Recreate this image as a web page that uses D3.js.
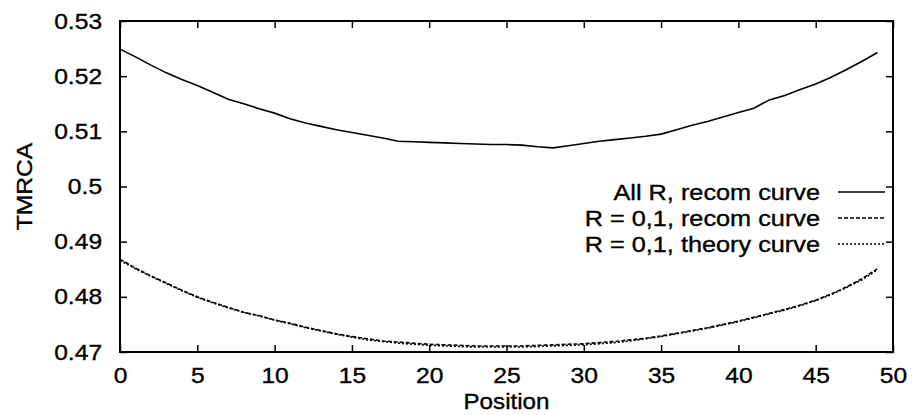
<!DOCTYPE html>
<html>
<head>
<meta charset="utf-8">
<script src="https://cdn.jsdelivr.net/npm/d3@7"></script>
<style>
  html, body { margin: 0; padding: 0; background: #fff; }
  svg { display: block; }
  text { font-family: "Liberation Sans", Arial, Helvetica, sans-serif; fill: #000; }
</style>
</head>
<body>
<svg id="chart" width="915" height="415"></svg>
<script>
// ---- data ----
const positions = [0,1,2,3,4,5,6,7,8,9,10,11,12,13,14,15,16,17,18,19,20,21,22,23,24,
  25,26,27,28,29,30,31,32,33,34,35,36,37,38,39,40,41,42,43,44,45,46,47,48,49];

const allRRecom = [0.5249,0.5235,0.5220,0.5206,0.5194,0.5183,0.5171,0.5158,0.5150,0.5141,
  0.5133,0.5123,0.5115,0.5109,0.5103,0.5098,0.5093,0.5088,0.5082,0.5081,
  0.5080,0.5079,0.5078,0.5077,0.5076,0.5076,0.5075,0.5072,0.5070,0.5074,
  0.5078,0.5082,0.5085,0.5088,0.5091,0.5095,0.5103,0.5111,0.5118,0.5126,
  0.5134,0.5142,0.5157,0.5165,0.5176,0.5186,0.5198,0.5212,0.5227,0.5243];

const r01Recom = [0.4868,0.4852,0.4838,0.4825,0.4812,0.4800,0.4790,0.4781,0.4772,0.4766,
  0.4758,0.4752,0.4745,0.4739,0.4733,0.4728,0.4724,0.4720,0.4718,0.4716,
  0.4714,0.4713,0.4712,0.4711,0.4711,0.4711,0.4711,0.4712,0.4713,0.4714,
  0.4715,0.4717,0.4719,0.4722,0.4725,0.4729,0.4734,0.4739,0.4744,0.4750,
  0.4756,0.4763,0.4770,0.4777,0.4785,0.4794,0.4805,0.4818,0.4833,0.4851];

const r01Theory = [0.4866,0.4851,0.4837,0.4824,0.4811,0.4799,0.4789,0.4780,0.4772,0.4765,
  0.4758,0.4751,0.4744,0.4738,0.4732,0.4727,0.4722,0.4719,0.4716,0.4714,
  0.4712,0.4711,0.4710,0.4709,0.4709,0.4709,0.4709,0.4710,0.4711,0.4712,
  0.4713,0.4715,0.4717,0.4720,0.4724,0.4728,0.4733,0.4738,0.4743,0.4749,
  0.4755,0.4762,0.4769,0.4776,0.4784,0.4793,0.4804,0.4817,0.4831,0.4849];

const xTicks = [0,5,10,15,20,25,30,35,40,45,50];
const yTicks = [0.47,0.48,0.49,0.50,0.51,0.52,0.53];
const yTickLabels = ["0.47","0.48","0.49","0.5","0.51","0.52","0.53"];
const seriesNames = ["All R, recom curve", "R = 0,1, recom curve", "R = 0,1, theory curve"];
const xLabel = "Position";
const yLabel = "TMRCA";

// ---- layout ----
const L = 120, R = 893, T = 21, B = 352;
const FS = 22, SX = 1.12;

const svg = d3.select("#chart");
const x = d3.scaleLinear().domain([0, 50]).range([L, R]);
const y = d3.scaleLinear().domain([0.47, 0.53]).range([B, T]);

function styleText(sel) {
  sel.style("font-size", FS + "px")
     .attr("stroke", "#000").attr("stroke-width", 0.35);
}

// axes (inward ticks)
const gl = svg.append("g").attr("transform", `translate(${L},0)`)
  .call(d3.axisLeft(y).tickValues(yTicks).tickSize(-7).tickPadding(16)
    .tickFormat((d, i) => yTickLabels[i]));
gl.selectAll("text").call(styleText).attr("transform", `scale(${SX},1)`);

const gr = svg.append("g").attr("transform", `translate(${R},0)`)
  .call(d3.axisRight(y).tickValues(yTicks).tickSize(-7).tickFormat(""));

const gb = svg.append("g").attr("transform", `translate(0,${B})`)
  .call(d3.axisBottom(x).tickValues(xTicks).tickSize(-7).tickPadding(15));
gb.selectAll("text").call(styleText).attr("transform", `scale(${SX},1)`);

const gt = svg.append("g").attr("transform", `translate(0,${T})`)
  .call(d3.axisTop(x).tickValues(xTicks).tickSize(-7).tickFormat(""));

[gl, gr, gb, gt].forEach(g => {
  g.select(".domain").remove();
  g.selectAll("line").attr("stroke", "#000").attr("stroke-width", 1.5);
});

// frame
svg.append("rect").attr("x", L).attr("y", T).attr("width", R - L).attr("height", B - T)
  .attr("fill", "none").attr("stroke", "#000").attr("stroke-width", 2);

// lines
const series = [
  { name: seriesNames[0], values: allRRecom, dash: null, w: 1.6 },
  { name: seriesNames[1], values: r01Recom, dash: "4,2", w: 1.6 },
  { name: seriesNames[2], values: r01Theory, dash: "2,2", w: 1.6 }
];
const line = d3.line().x((d, i) => x(positions[i])).y(d => y(d)).curve(d3.curveLinear);

series.forEach(s => {
  svg.append("path").datum(s.values)
    .attr("d", line)
    .attr("fill", "none").attr("stroke", "#000")
    .attr("stroke-width", s.w)
    .attr("stroke-dasharray", s.dash);
});

// legend
const legendRows = [192, 218, 244];
series.forEach((s, i) => {
  const yy = legendRows[i];
  svg.append("text")
    .attr("transform", `translate(820,${yy + 8}) scale(1.15,1)`)
    .attr("text-anchor", "end")
    .text(s.name).call(styleText);
  svg.append("line")
    .attr("x1", 838).attr("x2", 885).attr("y1", yy).attr("y2", yy)
    .attr("stroke", "#000").attr("stroke-width", 1.4)
    .attr("stroke-dasharray", s.dash);
});

// axis titles
svg.append("text")
  .attr("transform", `translate(${(L + R) / 2},409) scale(1.1,1)`)
  .attr("text-anchor", "middle").text(xLabel).call(styleText);

svg.append("text")
  .attr("transform", `translate(32,${(T + B) / 2}) rotate(-90) scale(1.12,1)`)
  .attr("text-anchor", "middle").text(yLabel).call(styleText);
</script>
</body>
</html>
